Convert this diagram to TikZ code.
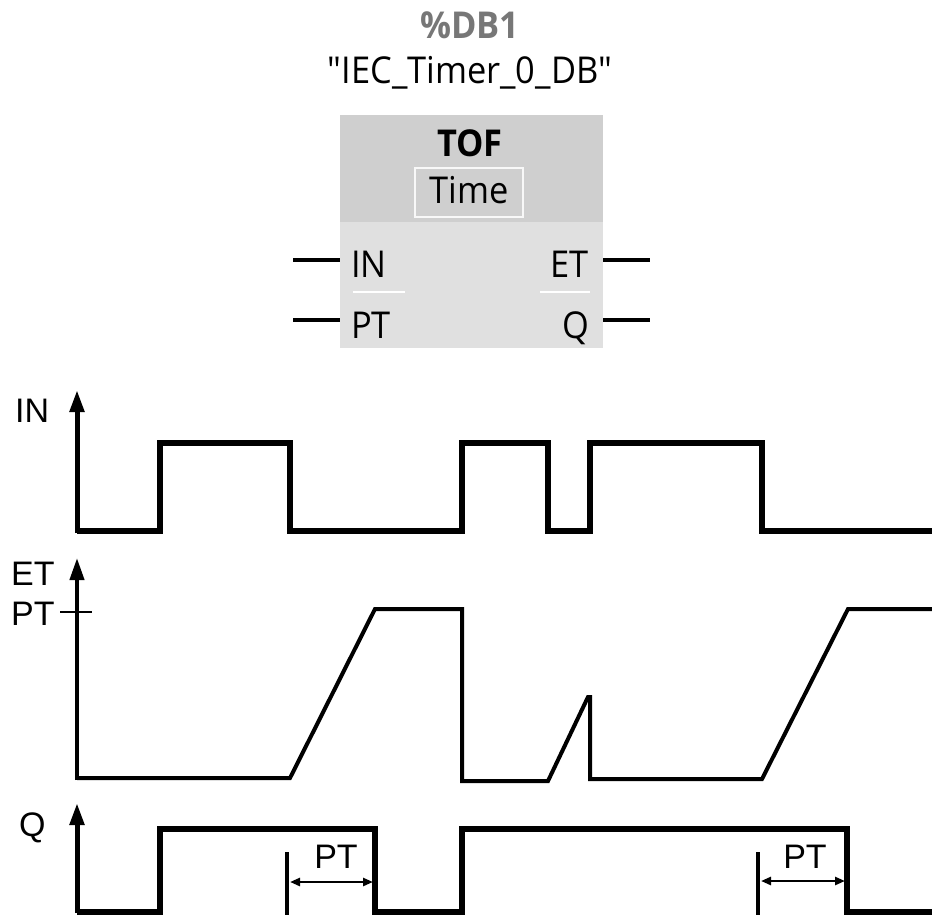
\documentclass[tikz,border=0pt]{standalone}
\usepackage{fontspec}
\setmainfont{Liberation Sans}
\newfontfamily\boxfont[FakeStretch=0.93]{Open Sans}
\usetikzlibrary{arrows.meta}
\definecolor{hdr}{HTML}{CFCFCF}
\definecolor{body}{HTML}{E0E0E0}
\definecolor{pin}{HTML}{A8A8A8}
\definecolor{dbgray}{HTML}{777777}
\begin{document}
\begin{tikzpicture}[x=1pt,y=-1pt,
  boxtxt/.style={inner sep=0pt, anchor=base, font=\boxfont\fontsize{37}{42}\selectfont},
  tlbl/.style={inner sep=0pt, anchor=base west, font=\fontsize{34}{40}\selectfont},
  wave/.style={line width=5.5pt, line join=miter},
  etwave/.style={line width=4pt, line join=miter},
  axis/.style={line width=5pt, -{Triangle[length=22pt,width=14pt]}},
  etaxis/.style={line width=4pt, -{Triangle[length=22pt,width=14pt]}},
  dimline/.style={line width=2.8pt, {Triangle[length=10pt,width=8pt]}-{Triangle[length=10pt,width=8pt]}},
  dimbar/.style={line width=4.5pt},
  blackpin/.style={line width=4pt, black},
  graypin/.style={line width=4pt, pin}
]
\useasboundingbox (0,0) rectangle (932,915);
\fill[white] (0,0) rectangle (932,915);

% ---------- block ----------
\node[boxtxt, font=\boxfont\bfseries\fontsize{37}{42}\selectfont, text=dbgray] (db) at (470,39) {\%DB1};
\node[boxtxt] (inst) at (470,84) {"IEC\_Timer\_0\_DB"};
\fill[hdr] (340,115) rectangle (603,222);
\fill[body] (340,222) rectangle (603,348);
\node[draw=white!85!hdr, line width=2pt, minimum width=108pt, minimum height=49pt, inner sep=0pt] (timebox) at (469,192.5) {};
\node[boxtxt, font=\boxfont\bfseries\fontsize{37}{42}\selectfont] (tof) at (470,157) {TOF};
\node[boxtxt] (time) at (469,204) {Time};
\node[boxtxt, anchor=base west] (pin) at (351,277) {IN};
\node[boxtxt, anchor=base east] (pet) at (589,277) {ET};
\node[boxtxt, anchor=base west] (ppt) at (351,338) {PT};
\node[boxtxt, anchor=base east] (pq) at (589,338) {Q};
\draw[white, line width=2pt] (353,292) -- (405,292);
\draw[white, line width=2pt] (540,292) -- (590,292);
\coordinate (inL) at (293,260); \coordinate (inR) at (340,260);
\coordinate (ptL) at (293,320); \coordinate (ptR) at (340,320);
\coordinate (etL) at (603,260); \coordinate (etR) at (650,260);
\coordinate (qL) at (603,320); \coordinate (qR) at (650,320);
\draw[blackpin] (inL) -- (inR);
\draw[graypin] (ptL) -- (ptR);
\draw[graypin] (etL) -- (etR);
\draw[blackpin] (qL) -- (qR);

% ---------- IN timing ----------
\node[tlbl] (lin) at (15,422) {IN};
\draw[axis] (77,533) -- (77,390);
\draw[wave] (77,531) -- (160,531) -- (160,443) -- (290,443) -- (290,531) -- (462,531) -- (462,443) -- (548,443) -- (548,531) -- (590,531) -- (590,443) -- (762,443) -- (762,531) -- (932,531);

% ---------- ET timing ----------
\node[tlbl] (let) at (11,585) {ET};
\node[tlbl] (lpt) at (11,625) {PT};
\draw[etaxis] (77,780) -- (77,558);
\draw[line width=1.5pt] (60,612) -- (92,612);
\draw[etwave] (77,778) -- (290,778) -- (375,609) -- (462,609) -- (462,781) -- (548,781) -- (588,697) -- (590,697) -- (590,779) -- (762,779) -- (848,609) -- (932,609);

% ---------- Q timing ----------
\node[tlbl] (lq) at (19,836) {Q};
\draw[axis] (77,913) -- (77,803);
\draw[wave] (77,912) -- (160,912) -- (160,829) -- (375,829) -- (375,912) -- (462,912) -- (462,829) -- (847,829) -- (847,912) -- (932,912);
\draw[dimbar] (287,852) -- (287,915);
\draw[dimline] (290,882) -- (373,882);
\node[tlbl, anchor=base] (dpt1) at (336,868) {PT};
\draw[dimbar] (758,852) -- (758,915);
\draw[dimline] (761,881) -- (845,881);
\node[tlbl, anchor=base] (dpt2) at (805,868) {PT};
\end{tikzpicture}
\end{document}
